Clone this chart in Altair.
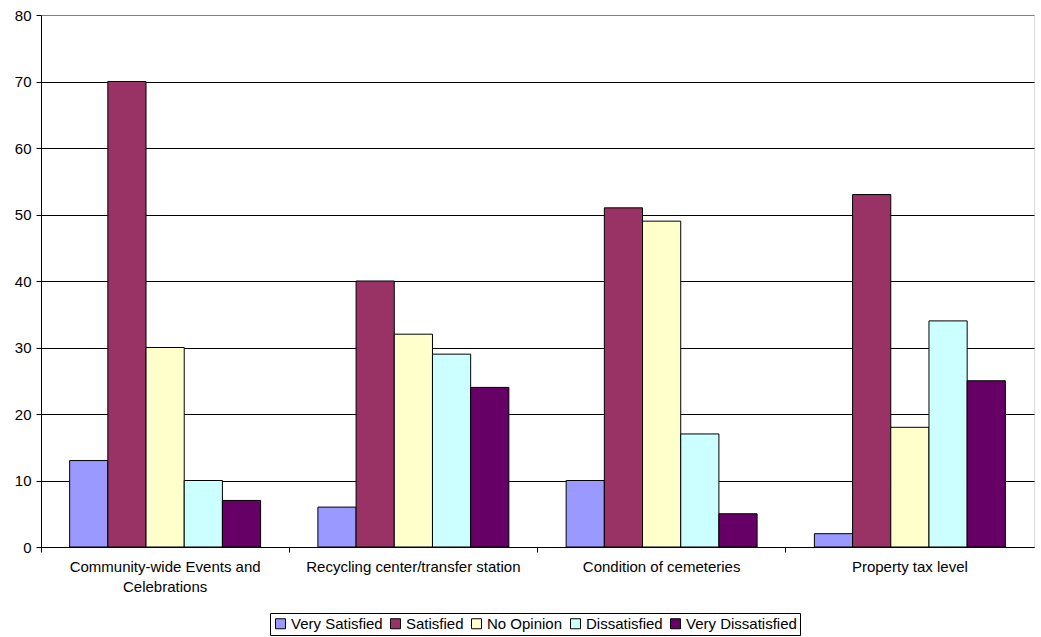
import altair as alt
import pandas as pd

categories = [
    "Community-wide Events and Celebrations",
    "Recycling center/transfer station",
    "Condition of cemeteries",
    "Property tax level",
]
responses = ["Very Satisfied", "Satisfied", "No Opinion", "Dissatisfied", "Very Dissatisfied"]
colors = ["#9999FF", "#993366", "#FFFFCC", "#CCFFFF", "#660066"]

very_satisfied = [13, 6, 10, 2]
satisfied = [70, 40, 51, 53]
no_opinion = [30, 32, 49, 18]
dissatisfied = [10, 29, 17, 34]
very_dissatisfied = [7, 24, 5, 25]

series = [very_satisfied, satisfied, no_opinion, dissatisfied, very_dissatisfied]
rows = []
for resp, vals in zip(responses, series):
    for cat, v in zip(categories, vals):
        rows.append({"category": cat, "response": resp, "count": v})
df = pd.DataFrame(rows)

font = "Liberation Sans"

label_expr = (
    "datum.label == 'Community-wide Events and Celebrations' ? "
    "['Community-wide Events and', 'Celebrations'] : datum.label"
)

chart = (
    alt.Chart(df)
    .mark_bar(stroke="black", strokeWidth=1)
    .encode(
        x=alt.X(
            "category:N",
            sort=categories,
            title=None,
            scale=alt.Scale(paddingInner=0, paddingOuter=0),
            axis=alt.Axis(
                labelAngle=0,
                bandPosition=0,
                labelExpr=label_expr,
                labelFont=font,
                labelFontSize=15,
                labelColor="black",
                labelPadding=7,
                labelLimit=0,
                labelLineHeight=20,
                labelBaseline="top",
                domainColor="black",
                tickColor="black",
                tickSize=5,
                grid=False,
            ),
        ),
        xOffset=alt.XOffset(
            "response:N",
            sort=responses,
            scale=alt.Scale(paddingInner=0, paddingOuter=0.75),
        ),
        y=alt.Y(
            "count:Q",
            title=None,
            scale=alt.Scale(domain=[0, 80], nice=False),
            axis=alt.Axis(
                values=[0, 10, 20, 30, 40, 50, 60, 70, 80],
                labelFont=font,
                labelFontSize=15,
                labelColor="black",
                labelPadding=5,
                domainColor="black",
                tickColor="black",
                tickSize=5,
                gridColor=alt.condition(
                    "datum.value === 80", alt.value("#808080"), alt.value("black")
                ),
                gridWidth=1,
            ),
        ),
        color=alt.Color(
            "response:N",
            sort=responses,
            scale=alt.Scale(domain=responses, range=colors),
            legend=alt.Legend(
                title=None,
                orient="none",
                direction="horizontal",
                legendX=229,
                legendY=598,
                symbolType="square",
                symbolSize=100,
                symbolStrokeColor="black",
                symbolStrokeWidth=1,
                symbolOpacity=1,
                labelFont=font,
                labelFontSize=15,
                labelColor="black",
                labelOffset=3,
                columnPadding=5,
                strokeColor="black",
                padding=3,
            ),
        ),
    )
    .properties(
        width=993,
        height=532,
        autosize=alt.AutoSizeParams(type="none"),
        padding={"left": 41, "top": 15, "right": 7, "bottom": 90},
    )
    .configure_view(fill="#C0C0C0", stroke="#808080", strokeWidth=1)
    .configure(background="white")
)

chart.save("out.html", embed_options={"renderer": "svg", "actions": False})
